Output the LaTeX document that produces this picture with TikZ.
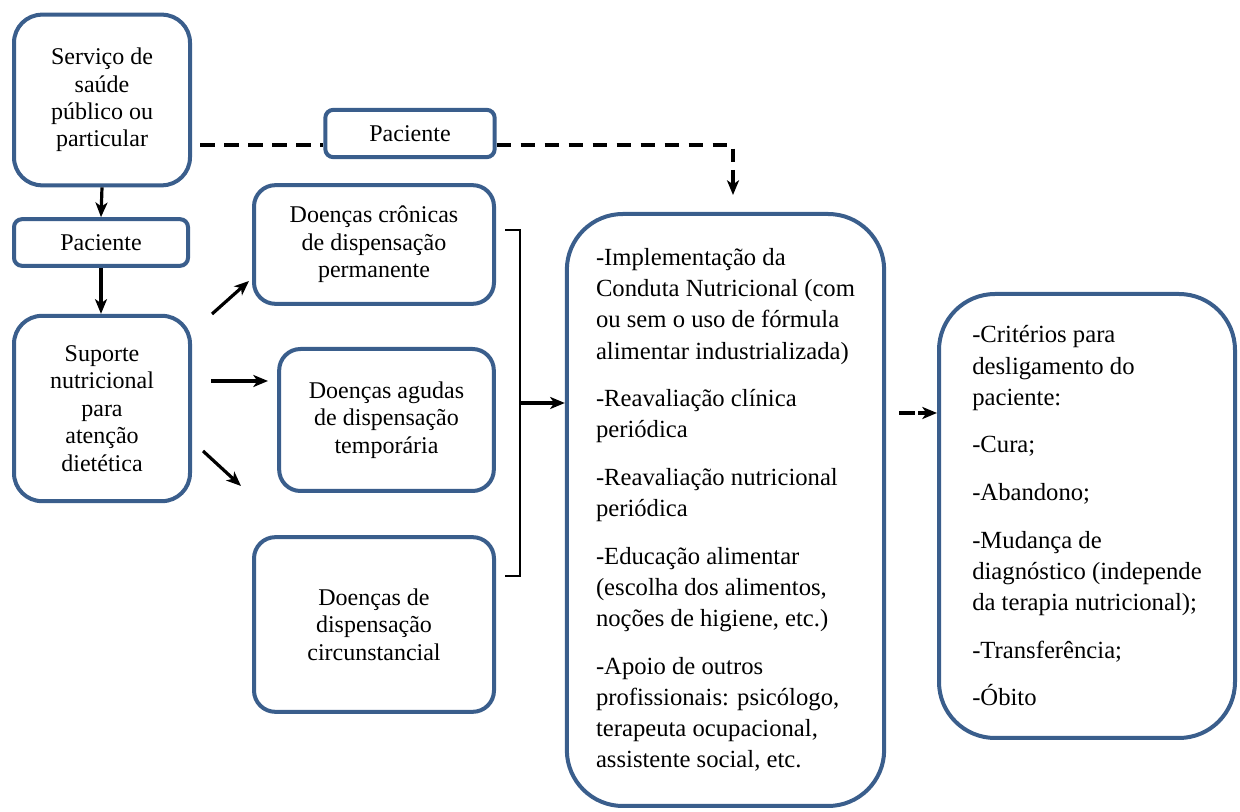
\documentclass[tikz,border=0pt]{standalone}
\usepackage{fontspec}
\setmainfont{Liberation Serif}
\usetikzlibrary{arrows.meta,calc}
\definecolor{boxblue}{RGB}{58,94,140}
\begin{document}
\begin{tikzpicture}[x=0.75pt,y=-0.75pt,
  box/.style={draw=boxblue, line width=3pt, fill=white, inner sep=0pt, align=center,
    font=\fontsize{18}{20.6}\selectfont},
  bigbox/.style={draw=boxblue, line width=3pt, fill=white, inner sep=0pt, align=left,
    font=\fontsize{18.5}{23.3}\selectfont},
  arr/.style={line width=2.4pt, -{Stealth[length=11pt,width=9pt,inset=3pt]}},
  dsh/.style={line width=2.4pt, dash pattern=on 11pt off 7pt},
  brk/.style={line width=2.2pt}
]
\useasboundingbox (0,0) rectangle (1240,812);

% left column
\node[box, rounded corners=21pt, minimum width=132pt, minimum height=128pt] (serv) at (102,100)
  {Serviço de\\saúde\\público ou\\particular};
\node[box, rounded corners=6pt, minimum width=130.5pt, minimum height=35pt] (pac1) at (101,242.5)
  {Paciente};
\node[box, rounded corners=21pt, minimum width=132pt, minimum height=139pt] (sup) at (102,408.5)
  {Suporte\\nutricional\\para\\atenção\\dietética};

% top Paciente
\node[box, rounded corners=6pt, minimum width=127pt, minimum height=35.5pt] (pac2) at (410,133.5)
  {Paciente};

% middle column
\node[box, rounded corners=16pt, minimum width=180pt, minimum height=89pt] (cron) at (374,244.5)
  {Doenças crônicas\\de dispensação\\permanente};
\node[box, rounded corners=16pt, minimum width=161pt, minimum height=106.5pt] (agud) at (386.5,420)
  {Doenças agudas\\de dispensação\\temporária};
\node[box, rounded corners=16pt, minimum width=180pt, minimum height=131pt] (circ) at (374,624.5)
  {Doenças de\\dispensação\\circunstancial};

% big box
\node[bigbox, rounded corners=42pt, minimum width=238pt, minimum height=444pt] (impl) at (725.5,510)
  {-Implementação da\\Conduta Nutricional (com\\ou sem o uso de fórmula\\alimentar industrializada)\\[12.5pt]
   -Reavaliação clínica\\periódica\\[12.5pt]
   -Reavaliação nutricional\\periódica\\[12.5pt]
   -Educação alimentar\\(escolha dos alimentos,\\noções de higiene, etc.)\\[12.5pt]
   -Apoio de outros\\profissionais: psicólogo,\\terapeuta ocupacional,\\assistente social, etc.};

% right box
\node[bigbox, rounded corners=42pt, minimum width=222pt, minimum height=333pt] (crit) at (1087,516)
  {-Critérios para\\desligamento do\\paciente:\\[12.5pt]
   -Cura;\\[12.5pt]
   -Abandono;\\[12.5pt]
   -Mudança de\\diagnóstico (independe\\da terapia nutricional);\\[12.5pt]
   -Transferência;\\[12.5pt]
   -Óbito};

% vertical arrows left
\draw[arr] (serv.south) -- (pac1.north);
\draw[arr] (pac1.south) -- (pac1.south |- sup.north);

% arrows from Suporte
\coordinate (a1s) at (212,314);
\coordinate (a1e) at (249,281);
\coordinate (a2s) at (211,381);
\coordinate (a2e) at (268,381);
\coordinate (a3s) at (203,451);
\coordinate (a3e) at (241,486);
\draw[arr] (a1s) -- (a1e);
\draw[arr] (a2s) -- (a2e);
\draw[arr] (a3s) -- (a3e);

% dashed Paciente line
\coordinate (d0) at (200,145);
\coordinate (d1) at (733,145);
\coordinate (d2) at (733,195);
\draw[dsh] (d0) -- (d0 -| pac2.west);
\draw[dsh] (d0 -| pac2.east) -- (d1) -- (733,162);
\draw[arr] (733,170) -- (d2);

% bracket
\coordinate (b1) at (505,230);
\coordinate (b2) at (520,230);
\coordinate (b3) at (520,576);
\coordinate (b4) at (505,576);
\draw[brk] (b1) -- (b2) -- (b3) -- (b4);
\coordinate (bm) at (520,403);
\draw[arr] (bm) -- (bm -| impl.west);

% dashed arrow to right box
\coordinate (r0) at (899,413);
\draw[line width=2.4pt] (r0) -- (915,413);
\draw[arr] (918,413) -- (r0 -| crit.west);
\end{tikzpicture}
\end{document}
